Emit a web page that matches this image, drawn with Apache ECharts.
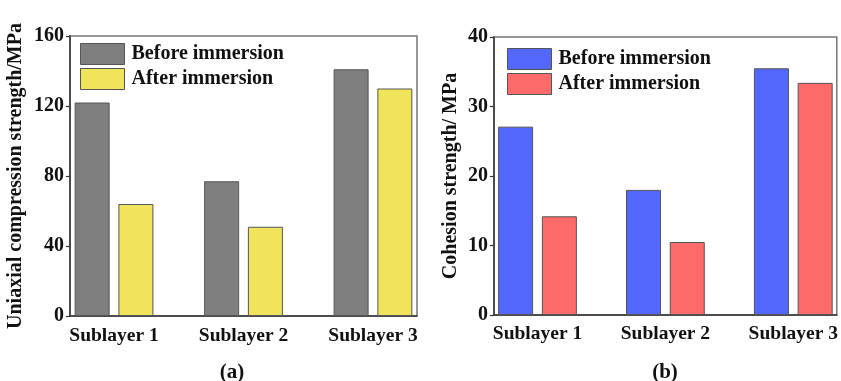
<!DOCTYPE html>
<html>
<head>
<meta charset="utf-8">
<script src="https://cdn.jsdelivr.net/npm/echarts@6/dist/echarts.min.js"></script>
<style>
  html, body { margin: 0; padding: 0; background: #fff; }
  #chart { width: 841px; height: 381px; }
</style>
</head>
<body>
<div id="chart"></div>
<script>
// Sample groups (positions 1..3 on the x axis)
const categories = ['Sublayer 1', 'Sublayer 2', 'Sublayer 3'];
const seriesNames = ['Before immersion', 'After immersion'];

// (a) Uniaxial compression strength, MPa
const ucsBefore = [122, 77, 141];
const ucsAfter = [64, 51, 130];

// (b) Cohesion strength, MPa
const cohBefore = [27.1, 18.0, 35.5];
const cohAfter = [14.2, 10.5, 33.4];

// y-axis tick labels
const ucsTicks = [0, 40, 80, 120, 160];
const cohTicks = [0, 10, 20, 30, 40];

const FONT = '"Liberation Serif", "Times New Roman", serif';
const colors = {
  a: ['#7f7f7f', '#efe45c'],
  b: ['#5368fb', '#fd6a6a']
};

const toPoints = vals => vals.map((v, i) => [i + 1, v]);

function xAxisFor(gridIndex) {
  return {
    type: 'value', gridIndex, min: 0.66, max: 3.34,
    axisLine: { show: true, lineStyle: { color: '#333', width: 1.5 } },
    axisTick: { show: false },
    splitLine: { show: false },
    axisLabel: {
      customValues: [1, 2, 3],
      formatter: v => categories[Math.round(v) - 1] || '',
      fontFamily: FONT, fontWeight: 'bold', fontSize: 19.5, color: '#111',
      margin: gridIndex === 0 ? 10 : 9
    }
  };
}

function yAxisFor(gridIndex, ticks, name, nameGap) {
  return {
    type: 'value', gridIndex,
    min: ticks[0], max: ticks[ticks.length - 1], interval: ticks[1] - ticks[0],
    name, nameLocation: 'middle', nameGap,
    nameTextStyle: { fontFamily: FONT, fontWeight: 'bold', fontSize: 20, color: '#111' },
    axisLine: { show: true, lineStyle: { color: '#333', width: 1.5 } },
    axisTick: { show: true, inside: false, length: 4, lineStyle: { color: '#333', width: 1.2 } },
    splitLine: { show: false },
    axisLabel: { fontFamily: FONT, fontWeight: 'bold', fontSize: 20, color: '#111', margin: 6 }
  };
}

function barSeries(name, vals, gridIdx, color) {
  return {
    type: 'bar', name,
    xAxisIndex: gridIdx, yAxisIndex: gridIdx,
    data: toPoints(vals),
    barWidth: 35, barGap: '25%',
    itemStyle: { color, borderColor: '#555', borderWidth: 1 }
  };
}

function legendFor(left, top, palette) {
  return {
    orient: 'vertical', left, top, padding: 0,
    itemWidth: 44, itemHeight: 21, itemGap: 3,
    icon: 'rect',
    selectedMode: false,
    data: seriesNames.map((n, i) => ({
      name: n,
      itemStyle: { color: palette[i], borderColor: '#555', borderWidth: 1 }
    })),
    textStyle: { fontFamily: FONT, fontWeight: 'bold', fontSize: 20, color: '#111', padding: [0, 0, 0, 2] }
  };
}

const chart = echarts.init(document.getElementById('chart'), null, { renderer: 'canvas' });
chart.setOption({
  animation: false,
  backgroundColor: '#fff',
  grid: [
    { left: 70, top: 36, width: 347, height: 280, show: true, borderColor: '#777', borderWidth: 1.5, backgroundColor: 'transparent' },
    { left: 494, top: 37, width: 343, height: 278, show: true, borderColor: '#777', borderWidth: 1.5, backgroundColor: 'transparent' }
  ],
  xAxis: [xAxisFor(0), xAxisFor(1)],
  yAxis: [
    yAxisFor(0, ucsTicks, 'Uniaxial compression strength/MPa', 44),
    yAxisFor(1, cohTicks, 'Cohesion strength/ MPa', 33)
  ],
  legend: [legendFor(80, 43, colors.a), legendFor(507, 48, colors.b)],
  series: [
    barSeries(seriesNames[0], ucsBefore, 0, colors.a[0]),
    barSeries(seriesNames[1], ucsAfter, 0, colors.a[1]),
    barSeries(seriesNames[0], cohBefore, 1, colors.b[0]),
    barSeries(seriesNames[1], cohAfter, 1, colors.b[1])
  ],
  graphic: [
    { type: 'text', x: 232, y: 362, style: { text: '(a)', font: 'bold 21px ' + FONT, fill: '#111', textAlign: 'center', textVerticalAlign: 'top' } },
    { type: 'text', x: 665, y: 362, style: { text: '(b)', font: 'bold 21px ' + FONT, fill: '#111', textAlign: 'center', textVerticalAlign: 'top' } }
  ]
});
</script>
</body>
</html>
